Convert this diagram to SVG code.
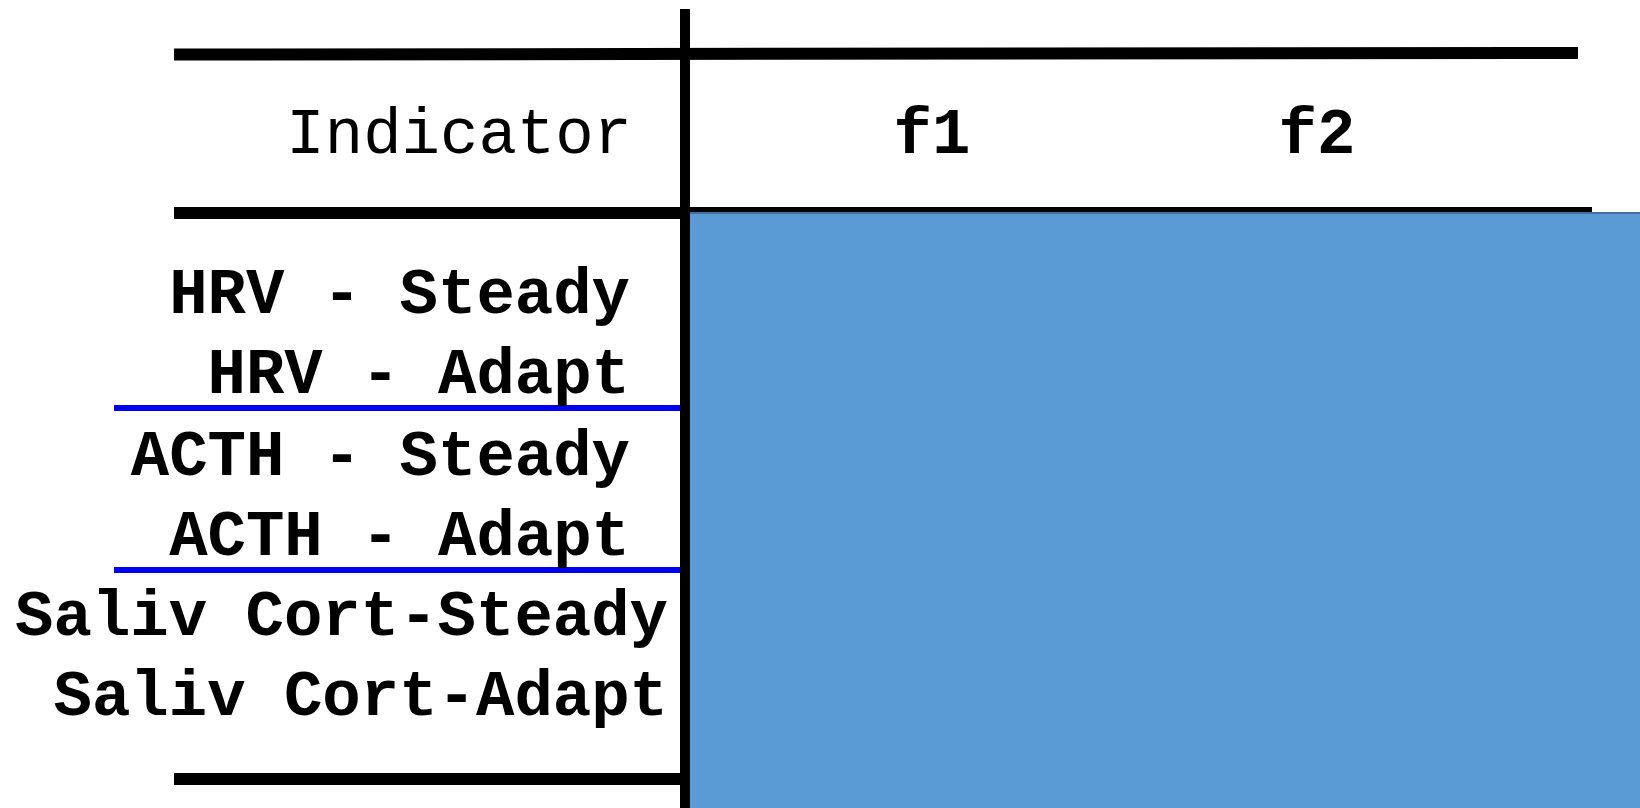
<svg xmlns="http://www.w3.org/2000/svg" width="1640" height="808" viewBox="0 0 1640 808">
<style>
.t{font-family:"Liberation Mono","Courier New",monospace;font-size:64px;fill:#000}
.b{font-weight:bold}
.blk{stroke:#000;stroke-width:12;fill:none}
.blu{stroke:#0000F0;stroke-width:6;fill:none}
</style>
<rect width="1640" height="808" fill="#fff"/>
<g id="connectors">
<line class="blk" x1="174" y1="54.5" x2="1578" y2="53"/>
<line class="blk" x1="174" y1="213" x2="1592" y2="213"/>
<line class="blk" x1="174" y1="779" x2="685" y2="779"/>
<line class="blu" x1="114" y1="408" x2="685" y2="408"/>
<line class="blu" x1="114" y1="570" x2="685" y2="570"/>
</g>
<g id="data-area">
<rect x="687" y="213" width="960" height="600" fill="#5B9BD5" stroke="#41719C" stroke-width="2"/>
</g>
<g id="axis">
<line stroke="#000" stroke-width="10" x1="685" y1="9" x2="685" y2="808"/>
</g>
<g id="header">
<text class="t" x="632" y="153" text-anchor="end">Indicator</text>
<text class="t b" x="932" y="153" text-anchor="middle">f1</text>
<text class="t b" x="1317" y="153" text-anchor="middle">f2</text>
</g>
<g id="row-labels">
<text class="t b" x="630" y="313" text-anchor="end">HRV - Steady</text>
<text class="t b" x="630" y="393" text-anchor="end">HRV - Adapt</text>
<text class="t b" x="630" y="475" text-anchor="end">ACTH - Steady</text>
<text class="t b" x="630" y="555" text-anchor="end">ACTH - Adapt</text>
<text class="t b" x="668" y="635" text-anchor="end">Saliv Cort-Steady</text>
<text class="t b" x="668" y="715" text-anchor="end">Saliv Cort-Adapt</text>
</g>
</svg>
